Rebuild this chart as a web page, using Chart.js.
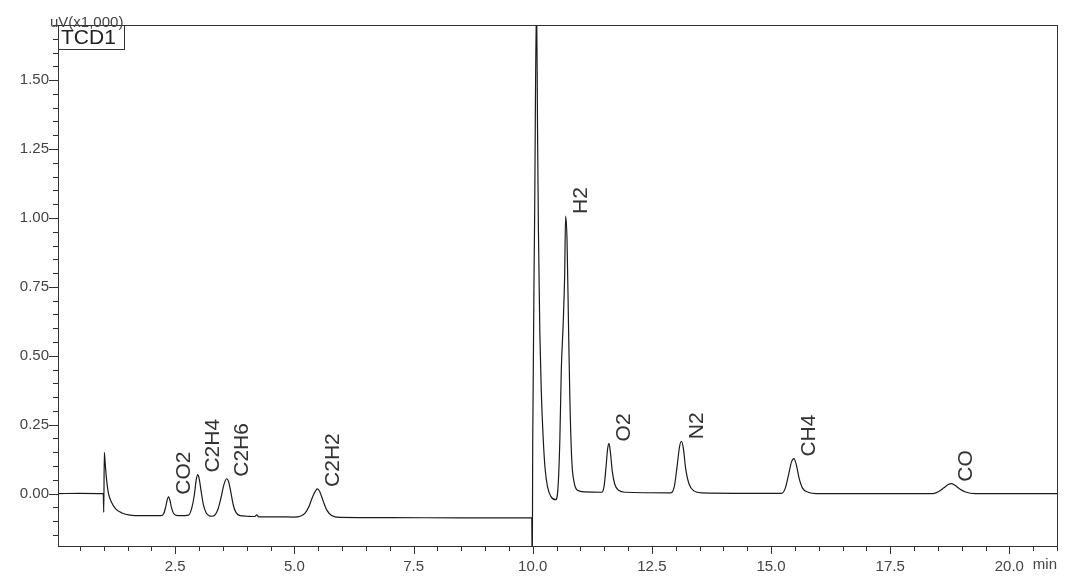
<!DOCTYPE html>
<html>
<head>
<meta charset="utf-8">
<script src="https://cdn.jsdelivr.net/npm/chart.js@4.4.1/dist/chart.umd.min.js"></script>
<style>
  html, body { margin: 0; padding: 0; background: #fff; }
  #wrap { width: 1080px; height: 586px; position: relative; }
</style>
</head>
<body>
<div id="wrap"><canvas id="c" width="1080" height="586"></canvas></div>
<script>
// Retention time (min) and detector signal (uV x1,000)
const times = [
  0.04, 0.50, 0.99, 1.00, 1.012, 1.03, 1.06, 1.10, 1.16, 1.25, 1.38, 1.55, 1.80, 2.20,
  2.26, 2.30, 2.33, 2.36, 2.39, 2.42, 2.46, 2.52, 2.60,
  2.78, 2.85, 2.90, 2.94, 2.97, 3.00, 3.04, 3.09, 3.15, 3.21, 3.27,
  3.34, 3.40, 3.46, 3.52, 3.58, 3.62, 3.67, 3.72, 3.78, 3.86, 4.00,
  4.17, 4.21, 4.25, 4.60, 5.00,
  5.12, 5.22, 5.31, 5.38, 5.44, 5.48, 5.53, 5.60, 5.68, 5.78, 5.95,
  7.00, 8.50, 9.98,
  9.99, 10.00, 10.04, 10.08, 10.10, 10.12, 10.15, 10.18, 10.22, 10.26, 10.31, 10.38, 10.48,
  10.53, 10.57, 10.60, 10.64, 10.67, 10.69, 10.72, 10.75, 10.78, 10.82, 10.87, 10.94, 11.10, 11.45,
  11.50, 11.54, 11.57, 11.60, 11.63, 11.67, 11.72, 11.80, 11.95,
  12.90, 12.97, 13.03, 13.08, 13.12, 13.16, 13.21, 13.28, 13.38, 13.55,
  15.22, 15.30, 15.37, 15.43, 15.48, 15.53, 15.59, 15.66, 15.78, 15.95,
  18.40, 18.52, 18.62, 18.72, 18.78, 18.86, 18.96, 19.08, 19.28,
  21.00
];
const signal = [
  0.000, 0.001, 0.000, -0.068, 0.150, 0.110, 0.050, 0.000, -0.030, -0.055, -0.070, -0.078, -0.080, -0.080,
  -0.072, -0.048, -0.024, -0.011, -0.025, -0.050, -0.070, -0.079, -0.080,
  -0.078, -0.050, -0.005, 0.050, 0.069, 0.056, 0.012, -0.040, -0.070, -0.080, -0.082,
  -0.076, -0.055, -0.015, 0.032, 0.054, 0.043, 0.002, -0.043, -0.070, -0.080, -0.082,
  -0.083, -0.077, -0.084, -0.084, -0.085,
  -0.082, -0.072, -0.045, -0.012, 0.009, 0.017, 0.008, -0.025, -0.060, -0.079, -0.086,
  -0.087, -0.088, -0.088,
  -0.300, 0.180, 1.000, 1.800, 1.350, 0.950, 0.580, 0.370, 0.200, 0.090, 0.025, -0.010, -0.022,
  0.020, 0.200, 0.450, 0.620, 0.790, 1.007, 0.920, 0.620, 0.340, 0.120, 0.040, 0.012, 0.006, 0.005,
  0.030, 0.100, 0.160, 0.182, 0.150, 0.080, 0.035, 0.012, 0.005,
  0.003, 0.025, 0.100, 0.170, 0.190, 0.165, 0.090, 0.035, 0.010, 0.003,
  0.001, 0.020, 0.070, 0.115, 0.127, 0.105, 0.055, 0.020, 0.005, 0.000,
  0.000, 0.008, 0.020, 0.033, 0.036, 0.030, 0.017, 0.006, 0.000,
  0.000
];
// Peak annotations
const peakNames   = ['CO2', 'C2H4', 'C2H6', 'C2H2', 'H2', 'O2', 'N2', 'CH4', 'CO'];
const peakTimes   = [2.36, 2.97, 3.58, 5.48, 10.69, 11.60, 13.12, 15.48, 18.78];
const peakHeights = [-0.011, 0.069, 0.054, 0.017, 1.007, 0.182, 0.190, 0.127, 0.036];
// Axis settings
const xRange = [0.04, 21.0];
const yRange = [-0.19, 1.70];
const xStep = 0.5, xLabelStep = 2.5;
const yStep = 0.05, yLabelStep = 0.25;
const detectorName = 'TCD1';
const yUnit = 'uV(x1,000)';
const xUnit = 'min';

const FONT = "'Liberation Sans', Arial, sans-serif";
const isMult = (v, s) => Math.abs(v / s - Math.round(v / s)) < 1e-6;

const deco = {
  id: 'deco',
  afterDatasetsDraw(chart) {
    const ctx = chart.ctx;
    const xs = chart.scales.x, ys = chart.scales.y;
    ctx.save();
    ctx.fillStyle = '#333';
    ctx.font = '21px ' + FONT;
    ctx.textBaseline = 'top';
    ctx.textAlign = 'left';
    for (let i = 0; i < peakNames.length; i++) {
      const px = xs.getPixelForValue(peakTimes[i]) + 5;
      const py = ys.getPixelForValue(peakHeights[i]) - 2;
      ctx.save();
      ctx.translate(px, py);
      ctx.rotate(-Math.PI / 2);
      ctx.fillText(peakNames[i], 0, 0);
      ctx.restore();
    }
    ctx.restore();
  },
  afterDraw(chart) {
    const ctx = chart.ctx, ca = chart.chartArea;
    const xs = chart.scales.x, ys = chart.scales.y;
    ctx.save();
    ctx.strokeStyle = '#333';
    ctx.lineWidth = 1;
    ctx.strokeRect(Math.round(ca.left) + 0.5, Math.round(ca.top) + 0.5,
                   Math.round(ca.right - ca.left), Math.round(ca.bottom - ca.top));
    ctx.beginPath();
    xs.ticks.forEach(t => {
      const p = Math.round(xs.getPixelForValue(t.value)) + 0.5;
      const len = isMult(t.value, xLabelStep) ? 8 : 5;
      ctx.moveTo(p, ca.bottom); ctx.lineTo(p, ca.bottom + len);
    });
    ys.ticks.forEach(t => {
      const p = Math.round(ys.getPixelForValue(t.value)) + 0.5;
      const len = isMult(t.value, yLabelStep) ? 9 : 5;
      ctx.moveTo(ca.left, p); ctx.lineTo(ca.left - len, p);
    });
    ctx.stroke();
    ctx.fillStyle = '#fff';
    ctx.fillRect(ca.left + 1, ca.top + 1, 65, 23);
    ctx.strokeRect(Math.round(ca.left) + 0.5, Math.round(ca.top) + 0.5, 66, 24);
    ctx.fillStyle = '#222';
    ctx.font = '21px ' + FONT;
    ctx.textBaseline = 'alphabetic';
    ctx.textAlign = 'left';
    ctx.fillText(detectorName, ca.left + 3, ca.top + 19);
    ctx.fillStyle = '#444';
    ctx.font = '15px ' + FONT;
    ctx.fillText(yUnit, 50, ca.top + 2);
    ctx.textAlign = 'right';
    ctx.textBaseline = 'middle';
    ctx.fillText(xUnit, ca.right, 565);
    ctx.restore();
  }
};

new Chart(document.getElementById('c'), {
  type: 'line',
  data: {
    datasets: [{
      data: times.map((t, i) => ({ x: t, y: signal[i] })),
      borderColor: '#1a1a1a',
      borderWidth: 1.2,
      pointRadius: 0,
      fill: false,
      cubicInterpolationMode: 'monotone'
    }]
  },
  options: {
    responsive: false,
    animation: false,
    layout: { padding: { top: 25, right: 23, left: 0, bottom: 0 } },
    plugins: { legend: { display: false }, tooltip: { enabled: false } },
    scales: {
      x: {
        type: 'linear',
        min: xRange[0], max: xRange[1],
        grid: { display: false },
        border: { display: false },
        ticks: {
          stepSize: xStep, autoSkip: false, maxRotation: 0, includeBounds: false,
          padding: 4, color: '#444', font: { family: FONT, size: 15 },
          callback: v => (isMult(v, xLabelStep) ? v.toFixed(1) : '')
        },
        afterFit: s => { s.height = 40; }
      },
      y: {
        type: 'linear',
        min: yRange[0], max: yRange[1],
        grid: { display: false },
        border: { display: false },
        ticks: {
          stepSize: yStep, autoSkip: false, includeBounds: false,
          padding: 1, color: '#444', font: { family: FONT, size: 15 },
          callback: v => (isMult(v, yLabelStep) ? v.toFixed(2) : '')
        },
        afterFit: s => { s.width = 58; }
      }
    }
  },
  plugins: [deco]
});
</script>
</body>
</html>
